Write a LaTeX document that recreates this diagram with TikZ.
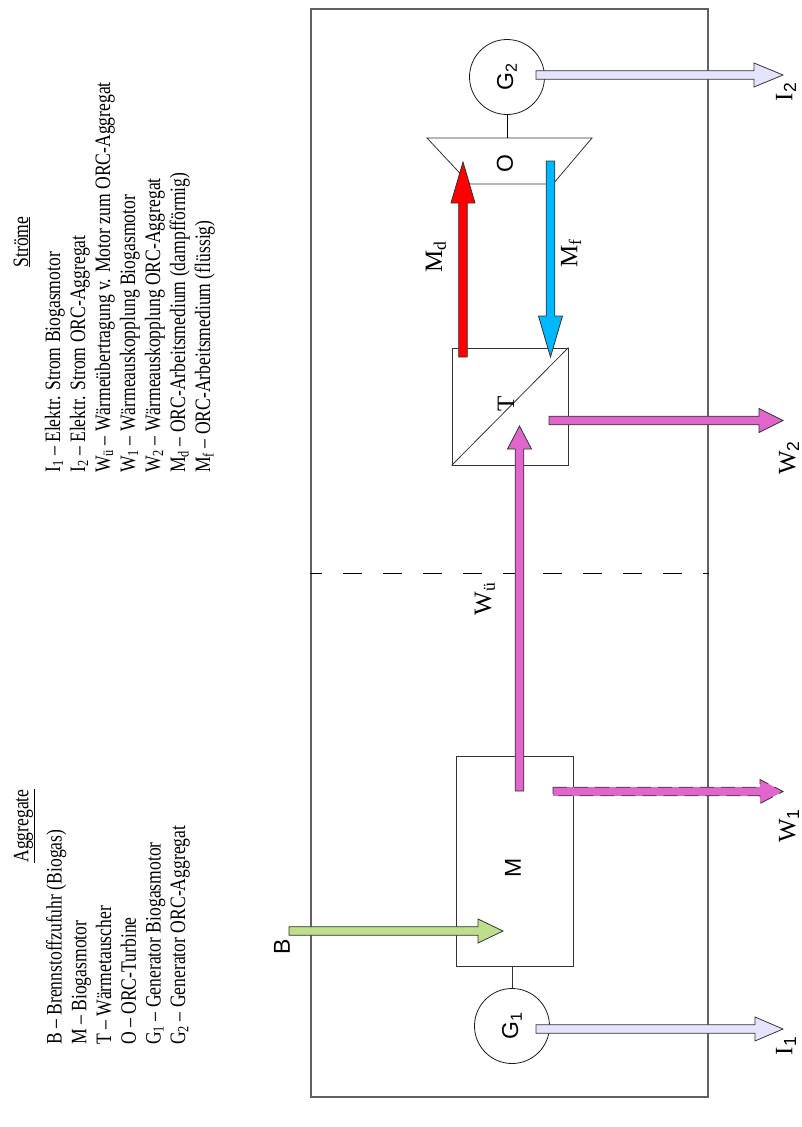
\documentclass[tikz,border=0pt]{standalone}
\usepackage{fontspec}
\setmainfont{Liberation Serif}
\setsansfont{Liberation Sans}
\newfontfamily\legendfont{Liberation Serif}[FakeStretch=0.8]
\usepackage{tikz}
\usetikzlibrary{calc,positioning}

\definecolor{waerme}{RGB}{224,102,204}
\definecolor{strom}{RGB}{228,228,255}
\definecolor{brennstoff}{RGB}{190,222,140}
\definecolor{dampf}{RGB}{255,0,0}
\definecolor{fluessig}{RGB}{0,184,255}

% block arrow: style, from, to, head length
\newcommand{\blockarrow}[4]{%
  \coordinate (hb) at ($(#3)!#4!(#2)$);
  \filldraw[#1] ($(#2)!4.3pt!90:(#3)$) -- ($(hb)!4.3pt!-90:(#2)$) -- ($(hb)!12pt!-90:(#2)$) -- (#3)
    -- ($(hb)!12pt!90:(#2)$) -- ($(hb)!4.3pt!90:(#2)$) -- ($(#2)!4.3pt!-90:(#3)$) -- cycle;
}

\begin{document}
\begin{tikzpicture}[x=1pt, y=-1pt]
			\tikzstyle{Frame}	= [rectangle, draw=black!62, line width=1.3pt, inner sep=0pt]
			\tikzstyle{Box}		= [rectangle, draw=black!80, line width=0.8pt, inner sep=0pt]
			\tikzstyle{Gen}		= [circle, draw=black!90, line width=0.8pt, minimum size=75pt, inner sep=0pt, font=\sffamily\fontsize{23}{23}\selectfont]
			\tikzstyle{Sans}	= [font=\sffamily\fontsize{23}{23}\selectfont, rotate=90, inner sep=0pt]
			\tikzstyle{Lbl}		= [font=\fontsize{25}{25}\selectfont, rotate=90, inner sep=0pt]
			\tikzstyle{Legend}	= [font=\legendfont\fontsize{22}{22}\selectfont, rotate=90, anchor=base west, inner sep=0pt]
			\tikzstyle{Head}	= [font=\legendfont\fontsize{22}{22}\selectfont, rotate=90, anchor=base, inner sep=0pt]
			\tikzstyle{Heat}	= [fill=waerme, draw=black!80, line width=0.8pt]
			\tikzstyle{Power}	= [fill=strom, draw=black!80, line width=0.8pt]
			\tikzstyle{Fuel}	= [fill=brennstoff, draw=black!80, line width=0.8pt]
			\tikzstyle{Vapour}	= [fill=dampf, draw=black!80, line width=0.8pt]
			\tikzstyle{Liquid}	= [fill=fluessig, draw=black!80, line width=0.8pt]

			\useasboundingbox (0,0) rectangle (802,1127);

			% Legende
			\node (hAgg) at (28.3,826) [Head] {\underline{Aggregate}};
			\node (aB) at (61.7,1045) [Legend] {B – Brennstoffzufuhr (Biogas)};
			\node (aM) at (86.4,1045) [Legend] {M – Biogasmotor};
			\node (aT) at (111.1,1045) [Legend] {T – Wärmetauscher};
			\node (aO) at (135.8,1045) [Legend] {O – ORC-Turbine};
			\node (aG1) at (160.5,1045) [Legend] {G\textsubscript{1} – Generator Biogasmotor};
			\node (aG2) at (185.2,1045) [Legend] {G\textsubscript{2} – Generator ORC-Aggregat};

			\node (hStr) at (28,242) [Head] {\underline{Ströme}};
			\node (sI1) at (60,473) [Legend] {I\textsubscript{1} – Elektr. Strom Biogasmotor};
			\node (sI2) at (85,473) [Legend] {I\textsubscript{2} – Elektr. Strom ORC-Aggregat};
			\node (sWue) at (110,473) [Legend] {W\textsubscript{ü} – Wärmeübertragung v. Motor zum ORC-Aggregat};
			\node (sW1) at (135,473) [Legend] {W\textsubscript{1} – Wärmeauskopplung Biogasmotor};
			\node (sW2) at (160,473) [Legend] {W\textsubscript{2} – Wärmeauskopplung ORC-Aggregat};
			\node (sMd) at (185,473) [Legend] {M\textsubscript{d} – ORC-Arbeitsmedium (dampfförmig)};
			\node (sMf) at (210,473) [Legend] {M\textsubscript{f} – ORC-Arbeitsmedium (flüssig)};

			% Anlage
			\node (Anlage) at (509.5,553) [Frame, minimum width=397pt, minimum height=1088pt] {};
			\draw [black, line width=0.8pt, dash pattern=on 19pt off 21pt, dash phase=7pt] (Anlage.west |- 0,573) -- (Anlage.east |- 0,573);

			\node (G2) at (507,77) [Gen] {\rotatebox{90}{G\textsubscript{2}}};
			\node (G1) at (512,1026) [Gen] {\rotatebox{90}{G\textsubscript{1}}};
			\node (M) at (514.5,861) [Box, minimum width=117pt, minimum height=210pt] {};
			\node (T) at (510,406.5) [Box, minimum width=116pt, minimum height=117pt] {};
			\draw [black!80, line width=0.8pt] (T.south west) -- (T.north east);

			\coordinate (O1) at (427,138);
			\coordinate (O2) at (592,138);
			\coordinate (O3) at (553,184);
			\coordinate (O4) at (470,184);
			\draw [black!80, line width=0.8pt, fill=white] (O1) -- (O2) -- (O3) -- (O4) -- cycle;

			\draw [black, line width=0.8pt] (G2.south) -- (G2.south |- O1);
			\draw [black!80, line width=0.8pt] (G1.north) -- (G1.north |- M.south);

			\node (lB) at (282,947) [Sans] {B};
			\node (lM) at (513,868) [Sans] {M};
			\node (lO) at (505,164) [Sans] {O};
			\node (lT) at (506,404) [Lbl] {T};

			% Ströme
			\coordinate (B-a) at (289,931);		\coordinate (B-b) at (503,931);
			\coordinate (Wue-a) at (519.5,791);	\coordinate (Wue-b) at (519.5,426);
			\coordinate (W1-a) at (553,791.5);	\coordinate (W1-b) at (783,791.5);
			\coordinate (W2-a) at (549,420.5);	\coordinate (W2-b) at (783,420.5);
			\coordinate (I1-a) at (536,1029);	\coordinate (I1-b) at (783,1029);
			\coordinate (I2-a) at (536,75);		\coordinate (I2-b) at (783,75);
			\coordinate (Md-a) at (463,357);	\coordinate (Md-b) at (463,162);
			\coordinate (Mf-a) at (550.5,161);	\coordinate (Mf-b) at (550.5,357);

			\blockarrow{Fuel}{B-a}{B-b}{25pt}
			\blockarrow{Heat}{Wue-a}{Wue-b}{23pt}
			\blockarrow{Heat, dash pattern=on 14pt off 7pt}{W1-a}{W1-b}{23pt}
			\blockarrow{Heat}{W2-a}{W2-b}{24pt}
			\blockarrow{Power}{I1-a}{I1-b}{28pt}
			\blockarrow{Power}{I2-a}{I2-b}{29pt}
			\blockarrow{Vapour}{Md-a}{Md-b}{41pt}
			\blockarrow{Liquid}{Mf-a}{Mf-b}{41pt}

			\node (lMd) at (436,257) [Lbl] {M\textsubscript{d}};
			\node (lMf) at (571,253) [Lbl] {M\textsubscript{f}};
			\node (lWue) at (485,599) [Lbl] {W\textsubscript{ü}};
			\node (lW1) at (789,826) [Lbl] {W\textsubscript{\sffamily 1}};
			\node (lW2) at (789,458) [Lbl] {W\textsubscript{\sffamily 2}};
			\node (lI1) at (786,1046) [Lbl] {I\textsubscript{\sffamily 1}};
			\node (lI2) at (786,92) [Lbl] {I\textsubscript{\sffamily 2}};
		\end{tikzpicture}
\end{document}
